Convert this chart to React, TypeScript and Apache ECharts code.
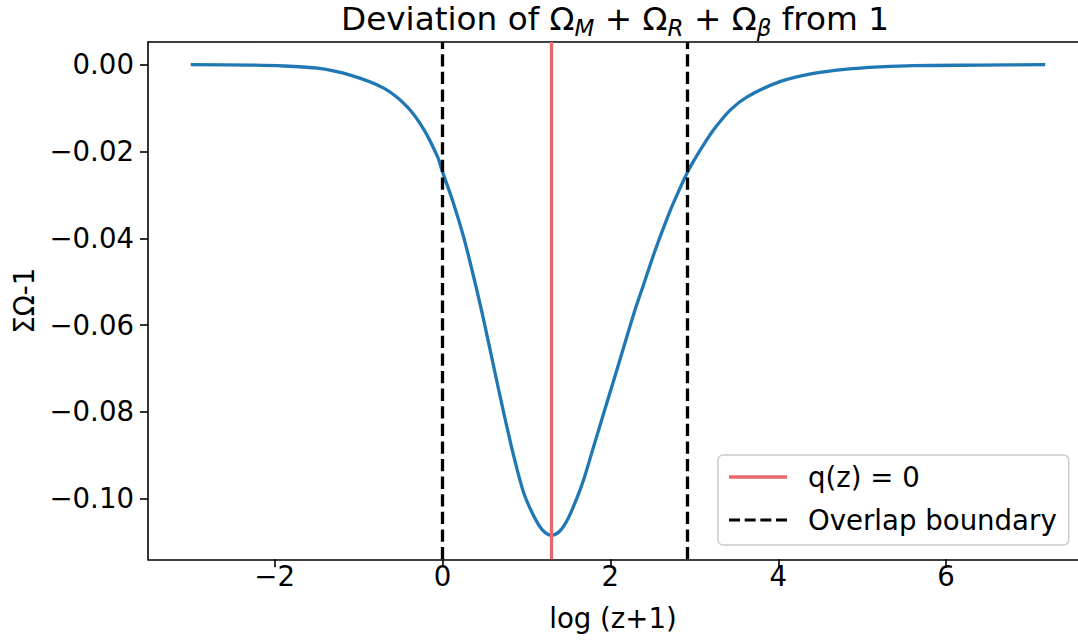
import React, { useEffect, useRef } from "react";
import * as echarts from "echarts";

const logZ = [-3.0, -2.29, -1.89, -1.49, -1.10, -0.70, -0.42, -0.22, -0.06, 0.0, 0.13, 0.25, 0.37, 0.49, 0.61, 0.73, 0.85, 0.97, 1.09, 1.19, 1.29, 1.39, 1.49, 1.60, 1.68, 1.80, 1.92, 2.04, 2.16, 2.28, 2.40, 2.52, 2.63, 2.75, 2.92, 3.07, 3.23, 3.43, 3.63, 4.02, 4.42, 4.82, 5.21, 5.61, 6.41, 7.18];
const deviation = [0, -0.0001, -0.0003, -0.0008, -0.0024, -0.0054, -0.0097, -0.0150, -0.0212, -0.0247, -0.0319, -0.0396, -0.0488, -0.0588, -0.0696, -0.0803, -0.0903, -0.0988, -0.1041, -0.1072, -0.1084, -0.1076, -0.1048, -0.0999, -0.0957, -0.0880, -0.0803, -0.0727, -0.0650, -0.0573, -0.0504, -0.0435, -0.0377, -0.0319, -0.0247, -0.0197, -0.0150, -0.0104, -0.0074, -0.0039, -0.0020, -0.0010, -0.0005, -0.0002, -0.0001, 0];
const qZeroX = [1.29];
const overlapX = [0.0, 2.92];
const xTicks = [-2, 0, 2, 4, 6];
const yTicks = [0, -0.02, -0.04, -0.06, -0.08, -0.1];

const FONT = "DejaVu Sans";
const FS = 27.6;
const RED = "#e8696b";
const X_MIN = -3.509;
const X_MAX = 7.571;

export default function App() {
  const ref = useRef<HTMLDivElement>(null);
  useEffect(() => {
    if (!ref.current) return;
    const chart = echarts.init(ref.current, null, { renderer: "svg" });
    const fmtMinus = (v: number, d: number) =>
      Math.abs(v) < 1e-12 ? (0).toFixed(d) : v < 0 ? "\u2212" + Math.abs(v).toFixed(d) : v.toFixed(d);
    chart.setOption({
      animation: false,
      backgroundColor: "#ffffff",
      textStyle: { fontFamily: FONT, fontWeight: "normal" },
      title: {
        left: 615,
        top: -1,
        padding: 0,
        textAlign: "center",
        text: "{t|Deviation of Ω}{s|M}{t| + Ω}{s|R}{t| + Ω}{s|β}{t| from 1}",
        textStyle: {
          fontWeight: "normal",
          rich: {
            t: { fontFamily: FONT, fontSize: 32.7, fontWeight: "normal", color: "#000", lineHeight: 40, verticalAlign: "middle" },
            s: { fontFamily: FONT, fontSize: 23, fontWeight: "normal", fontStyle: "italic", color: "#000", lineHeight: 22, verticalAlign: "bottom" },
          },
        },
      },
      legend: {
        left: 718,
        top: 455,
        orient: "vertical",
        backgroundColor: "rgba(255,255,255,0.8)",
        borderColor: "#cccccc",
        borderWidth: 1.5,
        borderRadius: 5,
        padding: [6, 12, 9, 11],
        itemWidth: 58,
        itemHeight: 32,
        itemGap: 11,
        symbolKeepAspect: true,
        data: [
          { name: "q(z) = 0", icon: "path://M0,0H58V3.3H0Z", itemStyle: { color: RED } },
          {
            name: "Overlap boundary",
            icon: "path://M0,0h12.3v3.3h-12.3z M17.6,0h12.3v3.3h-12.3z M35.2,0h12.3v3.3h-12.3z M52.8,0h12.3v3.3h-12.3z",
            itemStyle: { color: "#000" },
          },
        ],
        textStyle: { fontFamily: FONT, fontSize: FS, color: "#000", lineHeight: 32, padding: [0, 0, 0, 16] },
      },
      grid: {
        left: 148,
        top: 42,
        right: 0,
        bottom: 81.7,
        show: false,
      },
      xAxis: [
        {
          type: "value",
          min: X_MIN,
          max: X_MAX,
          name: "log (z+1)",
          nameLocation: "middle",
          nameGap: 45,
          nameTextStyle: { fontFamily: FONT, fontSize: FS, color: "#000" },
          axisLine: { show: true, onZero: false, lineStyle: { color: "#000", width: 1.6 } },
          axisTick: { show: true, inside: false, length: 8, lineStyle: { color: "#000", width: 1.6 }, customValues: xTicks },
          axisLabel: {
            fontFamily: FONT,
            fontSize: FS,
            color: "#000",
            margin: 3,
            customValues: xTicks,
            formatter: (v: number) => fmtMinus(v, 0),
          },
          splitLine: { show: false },
        },
        {
          type: "value",
          position: "top",
          min: X_MIN,
          max: X_MAX,
          axisLine: { show: true, onZero: false, lineStyle: { color: "#000", width: 1.6 } },
          axisTick: { show: false },
          axisLabel: { show: false },
          splitLine: { show: false },
        },
      ],
      yAxis: {
        type: "value",
        min: -0.11396,
        max: 0.00523,
        name: "ΣΩ-1",
        nameLocation: "middle",
        nameGap: 108,
        nameRotate: 90,
        nameTextStyle: { fontFamily: FONT, fontSize: FS, color: "#000" },
        axisLine: { show: true, onZero: false, lineStyle: { color: "#000", width: 1.6 } },
        axisTick: { show: true, inside: false, length: 8, lineStyle: { color: "#000", width: 1.6 }, customValues: yTicks },
        axisLabel: {
          fontFamily: FONT,
          fontSize: FS,
          color: "#000",
          margin: 14,
          customValues: yTicks,
          formatter: (v: number) => fmtMinus(v, 2),
        },
        splitLine: { show: false },
      },
      series: [
        {
          name: "ΣΩ-1",
          type: "line",
          xAxisIndex: 0,
          data: logZ.map((x, i) => [x, deviation[i]]),
          showSymbol: false,
          symbol: "none",
          smooth: 0.3,
          lineStyle: { color: "#1f77b4", width: 3.3 },
          z: 3,
        },
        {
          name: "q(z) = 0",
          type: "line",
          xAxisIndex: 0,
          data: [],
          symbol: "none",
          lineStyle: { color: RED, width: 3.3 },
          itemStyle: { color: RED },
          markLine: {
            silent: true,
            symbol: ["none", "none"],
            label: { show: false },
            lineStyle: { color: RED, width: 3.3, type: "solid" },
            data: qZeroX.map((x) => ({ xAxis: x })),
          },
          z: 2,
        },
        {
          name: "Overlap boundary",
          type: "line",
          xAxisIndex: 0,
          data: [],
          symbol: "none",
          lineStyle: { color: "#000", width: 3.3, type: [12.3, 5.3] },
          itemStyle: { color: "#000" },
          markLine: {
            silent: true,
            symbol: ["none", "none"],
            label: { show: false },
            lineStyle: { color: "#000", width: 3.3, type: [12.3, 5.3] },
            data: overlapX.map((x) => ({ xAxis: x })),
          },
          z: 2,
        },
      ],
    });
    return () => chart.dispose();
  }, []);
  return (
    <div
      ref={ref}
      style={{ position: "absolute", left: 0, top: 0, width: 1078, height: 641, overflow: "hidden" }}
    />
  );
}
